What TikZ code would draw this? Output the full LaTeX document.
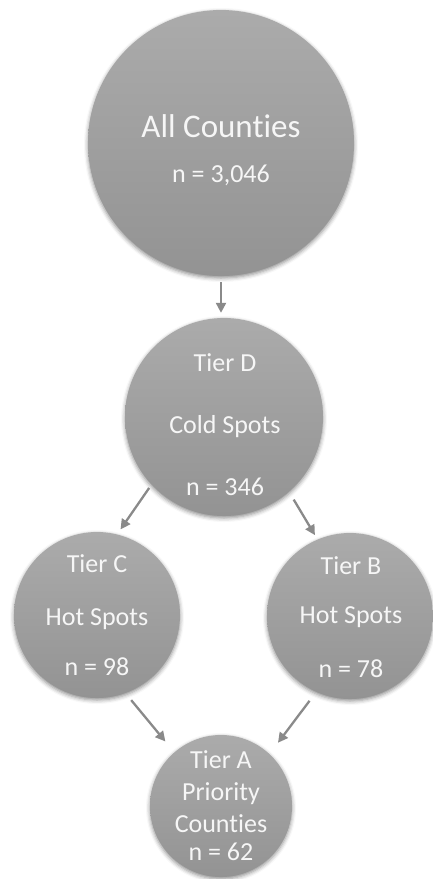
\documentclass[tikz,border=0pt]{standalone}
\usepackage{fontspec}
\setmainfont{Carlito}[Ligatures={NoCommon}]
\usetikzlibrary{arrows.meta,shadows.blur}
\definecolor{discTop}{HTML}{ABABAB}
\definecolor{discBot}{HTML}{939393}
\definecolor{linkGray}{HTML}{8A8A8A}
\definecolor{labelWhite}{HTML}{F6F6F6}
\tikzset{
  disc/.style={circle, inner sep=0pt, minimum size=#1, draw=none,
    top color=discTop, bottom color=discBot,
    blur shadow={shadow xshift=0pt, shadow yshift=-2pt,
      shadow blur radius=4pt, shadow opacity=45}},
  lbl/.style={anchor=base, text=labelWhite, inner sep=0pt,
    font=\fontsize{26}{31}\selectfont},
  biglbl/.style={lbl, font=\fontsize{33}{39}\selectfont},
  link/.style={draw=linkGray, line width=2.3pt,
    -{Triangle[length=10pt,width=10pt]}},
}
\begin{document}
\begin{tikzpicture}[x=1pt,y=-1pt]
  \useasboundingbox (0,0) rectangle (433,879);

  % tiers
  \node[disc=266pt] (all)   at (221,143) {};
  \node[disc=198pt] (tierD) at (224,417) {};
  \node[disc=166pt] (tierC) at (97,615)  {};
  \node[disc=166pt] (tierB) at (350,616) {};
  \node[disc=142pt] (tierA) at (221,806) {};

  % labels
  \node[biglbl] (allName) at (221,137) {All Counties};
  \node[lbl]    (allN)    at (221,182) {n = 3,046};

  \node[lbl] (dName) at (225,371) {Tier D};
  \node[lbl] (dKind) at (225,433) {Cold Spots};
  \node[lbl] (dN)    at (225,495) {n = 346};

  \node[lbl] (cName) at (97,572) {Tier C};
  \node[lbl] (cKind) at (97,625) {Hot Spots};
  \node[lbl] (cN)    at (97,675) {n = 98};

  \node[lbl] (bName) at (351,574) {Tier B};
  \node[lbl] (bKind) at (351,623) {Hot Spots};
  \node[lbl] (bN)    at (351,677) {n = 78};

  \node[lbl] (aName) at (221,768) {Tier A};
  \node[lbl] (aKind) at (221,800) {Priority};
  \node[lbl] (aKind2) at (221,832) {Counties};
  \node[lbl] (aN)    at (221,860) {n = 62};

  % flow
  \draw[link, shorten <=6pt, shorten >=5pt] (all.south) -- (all.south |- tierD.north);
  \draw[link, shorten <=4pt, shorten >=6pt] (tierD.223) -- (tierC.76);
  \draw[link, shorten <=9pt, shorten >=5pt] (tierD.311) -- (tierB.113);
  \draw[link, shorten <=9pt, shorten >=14pt] (tierC.290) -- (tierA.131);
  \draw[link, shorten <=11pt, shorten >=14pt] (tierB.246) -- (tierA.47);
\end{tikzpicture}
\end{document}
